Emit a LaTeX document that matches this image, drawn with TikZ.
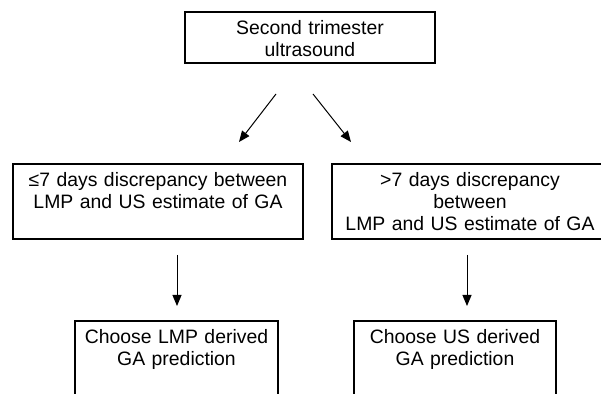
\documentclass[tikz,border=0pt]{standalone}
\usepackage{fontspec}
\setmainfont{Liberation Sans}
\usetikzlibrary{arrows.meta}
\begin{document}
\begin{tikzpicture}[x=0.5pt, y=-0.5pt, font=\fontsize{9.7}{11}\selectfont]
	\tikzset{
		flowbox/.style={draw, line width=0.8pt, anchor=north, align=center, inner xsep=0pt, inner ysep=0pt, text height=11.25pt},
		flowarrow/.style={line width=0.5pt, -{Triangle[length=5.5pt, width=4.5pt]}}
	}
	\useasboundingbox (0,0) rectangle (601,394);
	\clip (0,0) rectangle (601,394);
	\node[flowbox, text width=125pt, text depth=14.25pt] (scan) at (310,11) {Second trimester\\ultrasound};
	\node[flowbox, text width=145pt, text depth=26.25pt] (small) at (158,163) {≤7 days discrepancy between\\LMP and US estimate of GA};
	\node[flowbox, text width=138pt, text depth=26.25pt] (large) at (470,163) {>7 days discrepancy\\between\\LMP and US estimate of GA};
	\node[flowbox, text width=101.5pt, text depth=38.75pt] (lmp) at (176.5,320) {Choose LMP derived\\GA prediction};
	\node[flowbox, text width=101pt, text depth=38.75pt] (us) at (455,320) {Choose US derived\\GA prediction};
	% free arrow ends
	\coordinate (scanl) at (276,94);
	\coordinate (scanr) at (313,94);
	\coordinate (smallin) at (239,142);
	\coordinate (largein) at (351,142);
	\coordinate (smallout) at (177,255);
	\coordinate (largeout) at (467,255);
	\coordinate (lmpin) at (177,306);
	\coordinate (usin) at (467,306);
	\draw[flowarrow] (scanl) -- (smallin);
	\draw[flowarrow] (scanr) -- (largein);
	\draw[flowarrow] (smallout) -- (lmpin);
	\draw[flowarrow] (largeout) -- (usin);
\end{tikzpicture}
\end{document}
